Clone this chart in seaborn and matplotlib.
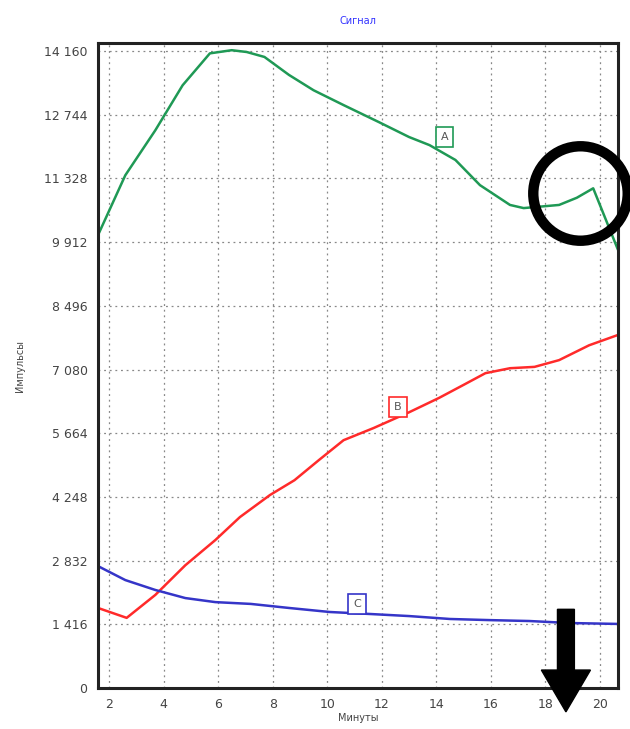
import numpy as np
import pandas as pd
import matplotlib
matplotlib.use("Agg")
import matplotlib.pyplot as plt
import matplotlib.ticker as mticker
import seaborn as sns

# curve A (green)
a_min = [1.6, 2.6, 3.7, 4.7, 5.7, 6.5, 7.05, 7.7, 8.6, 9.5, 10.6, 11.9, 13.0, 13.75,
         14.7, 15.6, 16.7, 17.2, 18.5, 19.15, 19.75, 20.66]
a_val = [10070, 11400, 12400, 13400, 14110, 14180, 14140, 14030, 13630, 13290, 12960,
         12580, 12250, 12070, 11740, 11180, 10740, 10670, 10740, 10900, 11110, 9740]
# curve B (red)
b_min = [1.6, 2.65, 3.7, 4.8, 5.9, 6.8, 7.9, 8.8, 9.7, 10.6, 11.7, 13.0, 14.1, 15.0,
         15.8, 16.7, 17.6, 18.5, 19.6, 20.66]
b_val = [1780, 1560, 2070, 2730, 3290, 3800, 4290, 4620, 5070, 5510, 5780, 6130, 6450,
         6740, 7000, 7110, 7140, 7290, 7620, 7850]
# curve C (blue)
c_min = [1.6, 2.6, 3.7, 4.8, 5.9, 7.2, 8.6, 10.1, 11.6, 13.0, 14.5, 15.95, 17.4, 18.9, 20.66]
c_val = [2710, 2400, 2180, 2000, 1910, 1870, 1780, 1690, 1645, 1600, 1535, 1510, 1490,
         1445, 1425]

y_ticks = [0, 1416, 2832, 4248, 5664, 7080, 8496, 9912, 11328, 12744, 14160]
x_ticks = [2, 4, 6, 8, 10, 12, 14, 16, 18, 20]

labels = ["A", "B", "C"]
label_pos = [(14.3, 12250), (12.6, 6250), (11.1, 1870)]
colors = ["#1f9955", "#ff2a2a", "#3535c8"]

df = pd.concat([
    pd.DataFrame({"min": a_min, "val": a_val, "curve": "A"}),
    pd.DataFrame({"min": b_min, "val": b_val, "curve": "B"}),
    pd.DataFrame({"min": c_min, "val": c_val, "curve": "C"}),
])

sns.set_style("white")
plt.rcParams['font.family'] = ['DejaVu Sans']

fig = plt.figure(figsize=(6.3, 7.29), dpi=100)
ax = fig.add_axes([0.1556, 0.0562, 0.8254, 0.8848])

sns.lineplot(data=df, x="min", y="val", hue="curve", palette=colors,
             linewidth=1.8, legend=False, ax=ax, sort=False, estimator=None)

for lab, (lx, ly), col in zip(labels, label_pos, colors):
    ax.text(lx, ly, lab, fontsize=8, color="#555555", ha="center", va="center",
            bbox=dict(boxstyle="square,pad=0.45", fc="white", ec=col, lw=1.2))

ax.set_xlim(1.6, 20.66)
ax.set_ylim(0, 14340)
ax.set_xticks(x_ticks)
ax.set_yticks(y_ticks)
ax.yaxis.set_major_formatter(mticker.FuncFormatter(lambda v, p: f"{v:,.0f}".replace(",", " ")))
ax.xaxis.set_minor_locator(mticker.MultipleLocator(0.4))
ax.yaxis.set_minor_locator(mticker.MultipleLocator(141.6))
ax.tick_params(axis="both", which="major", labelsize=9, colors="#444444", length=4,
               direction="out")
ax.tick_params(axis="both", which="minor", length=2, direction="in", color="#999999")
ax.grid(True, which="major", color="#888888", linestyle=(0, (1.5, 3)), linewidth=0.9)

for s in ax.spines.values():
    s.set_color("#222222")
    s.set_linewidth(2.2)

ax.set_xlabel("Минуты", fontsize=7, color="#444444", labelpad=1)
ax.set_ylabel("Импульсы", fontsize=7, color="#444444", labelpad=14)
ax.set_title("Сигнал", fontsize=7, color="#3333ff", pad=14)

# highlight circle and arrow
ax.plot([19.26], [11000], marker="o", ms=68, mfc="none", mec="black", mew=7.5,
        clip_on=False, zorder=5)
ax.arrow(18.75, 1750, 0, -2280, width=0.62, head_width=1.8, head_length=930,
         length_includes_head=True, fc="black", ec="black", clip_on=False, zorder=5)

fig.savefig("out.png", dpi=100)
